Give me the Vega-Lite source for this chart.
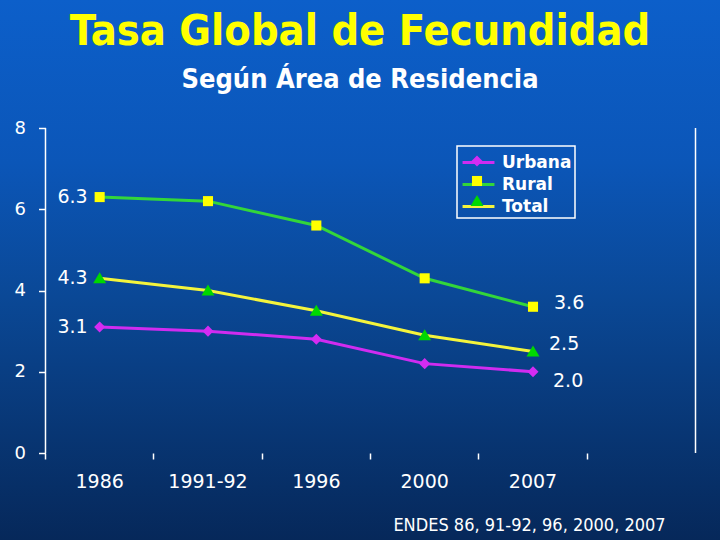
{
  "$schema": "https://vega.github.io/schema/vega-lite/v6.json",
  "width": 720,
  "height": 540,
  "autosize": {"type": "none"},
  "padding": 0,
  "background": "#0a4a9e",
  "config": {
    "view": {
      "stroke": null,
      "fill": {
        "gradient": "linear", "x1": 0, "y1": 0, "x2": 0, "y2": 1,
        "stops": [
          {"offset": 0, "color": "#0c5fca"},
          {"offset": 0.3, "color": "#0b56b8"},
          {"offset": 0.55, "color": "#0a4896"},
          {"offset": 0.8, "color": "#083674"},
          {"offset": 1, "color": "#06285a"}
        ]
      }
    },
    "font": "DejaVu Sans"
  },
  "title": {
    "text": "Tasa Global de Fecundidad",
    "subtitle": "Según Área de Residencia",
    "anchor": "middle",
    "frame": "group",
    "offset": -93,
    "font": "DejaVu Sans Condensed",
    "fontSize": 43,
    "fontWeight": "bold",
    "color": "#ffff00",
    "subtitleFont": "DejaVu Sans Condensed",
    "subtitleFontSize": 27,
    "subtitleFontWeight": "bold",
    "subtitleColor": "#ffffff",
    "subtitlePadding": 13
  },
  "datasets": {
    "tgf": [
      {"periodo": "1986", "serie": "Urbana", "tgf": 3.1},
      {"periodo": "1991-92", "serie": "Urbana", "tgf": 3.0},
      {"periodo": "1996", "serie": "Urbana", "tgf": 2.8},
      {"periodo": "2000", "serie": "Urbana", "tgf": 2.2},
      {"periodo": "2007", "serie": "Urbana", "tgf": 2.0},
      {"periodo": "1986", "serie": "Rural", "tgf": 6.3},
      {"periodo": "1991-92", "serie": "Rural", "tgf": 6.2},
      {"periodo": "1996", "serie": "Rural", "tgf": 5.6},
      {"periodo": "2000", "serie": "Rural", "tgf": 4.3},
      {"periodo": "2007", "serie": "Rural", "tgf": 3.6},
      {"periodo": "1986", "serie": "Total", "tgf": 4.3},
      {"periodo": "1991-92", "serie": "Total", "tgf": 4.0},
      {"periodo": "1996", "serie": "Total", "tgf": 3.5},
      {"periodo": "2000", "serie": "Total", "tgf": 2.9},
      {"periodo": "2007", "serie": "Total", "tgf": 2.5}
    ],
    "marco": [{"desde": 0, "hasta": 8}]
  },
  "data": {"name": "tgf"},
  "layer": [
    {
      "mark": {"type": "line", "strokeWidth": 3},
      "encoding": {
        "x": {
          "field": "periodo", "type": "nominal", "sort": null,
          "scale": {
            "type": "band",
            "domain": ["1986", "1991-92", "1996", "2000", "2007", " "],
            "paddingInner": 0, "paddingOuter": 0.323, "align": 0.65
          },
          "axis": {
            "orient": "bottom", "offset": -87, "domain": false, "grid": false,
            "bandPosition": 0, "labelAngle": 0,
            "tickColor": "#ffffff", "tickSize": 6, "tickWidth": 1.5,
            "labelColor": "#ffffff", "labelFont": "DejaVu Sans", "labelFontSize": 19, "labelPadding": 13,
            "title": "ENDES 86, 91-92, 96, 2000, 2007",
            "titleX": 529, "titleY": 72, "titleAlign": "center", "titleBaseline": "middle", "titleAngle": 0,
            "titleColor": "#ffffff", "titleFont": "DejaVu Sans Condensed", "titleFontSize": 18, "titleFontWeight": "normal"
          }
        },
        "y": {
          "field": "tgf", "type": "quantitative",
          "scale": {"domain": [-2.1415, 11.151], "nice": false, "zero": false},
          "axis": {
            "values": [0, 2, 4, 6, 8], "offset": -45.5, "domain": false, "grid": false,
            "tickColor": "#ffffff", "tickSize": 7, "tickWidth": 1.5,
            "labelColor": "#ffffff", "labelFont": "DejaVu Sans", "labelFontSize": 18, "labelPadding": 13,
            "title": null
          }
        },
        "color": {
          "field": "serie", "type": "nominal",
          "scale": {"domain": ["Urbana", "Rural", "Total"], "range": ["#d02cf0", "#33d63a", "#f4f43c"]},
          "legend": {
            "title": null, "orient": "none", "legendX": 457, "legendY": 146,
            "padding": 3, "rowPadding": 0, "strokeColor": "#ffffff",
            "symbolType": "M-1.33,0H1.33", "symbolSize": 576, "symbolStrokeWidth": 3, "symbolOffset": 5,
            "symbolFillColor": "transparent",
            "labelOffset": 10, "labelColor": "#ffffff", "labelFont": "DejaVu Sans", "labelFontSize": 17, "labelFontWeight": "bold",
            "encode": {"legend": {"update": {"strokeWidth": {"value": 1.5}}}}
          }
        }
      }
    },
    {
      "mark": {"type": "point", "filled": true, "opacity": 1, "size": 576, "strokeWidth": 0},
      "encoding": {
        "x": {"field": "periodo", "type": "nominal", "sort": null},
        "y": {"field": "tgf", "type": "quantitative"},
        "fill": {
          "field": "serie", "type": "nominal",
          "scale": {"domain": ["Urbana", "Rural", "Total", "zz"], "range": ["#d42cf2", "#ffff00", "#00d800", "#000000"]},
          "legend": {
            "values": ["Urbana", "Rural", "Total"], "zindex": 2,
            "title": null, "orient": "none", "legendX": 457, "legendY": 146,
            "padding": 3, "rowPadding": 0, "strokeColor": null,
            "symbolSize": 576, "symbolOffset": 5, "symbolStrokeWidth": 0,
            "labelOffset": 10, "labelExpr": "''", "labelFont": "DejaVu Sans", "labelFontSize": 17, "labelFontWeight": "bold"
          }
        },
        "shape": {
          "field": "serie", "type": "nominal",
          "scale": {
            "domain": ["Urbana", "Rural", "Total", "zz"],
            "range": [
              "M0,-0.46L0.46,0L0,0.46L-0.46,0Z",
              "M-0.42,-0.42H0.42V0.42H-0.42Z",
              "M0,-0.5L0.54,0.42H-0.54Z",
              "circle"
            ]
          },
          "legend": {
            "values": ["Urbana", "Rural", "Total"], "zindex": 2,
            "title": null, "orient": "none", "legendX": 457, "legendY": 146,
            "padding": 3, "rowPadding": 0, "strokeColor": null,
            "symbolSize": 576, "symbolOffset": 5, "symbolStrokeWidth": 0,
            "labelOffset": 10, "labelExpr": "''", "labelFont": "DejaVu Sans", "labelFontSize": 17, "labelFontWeight": "bold"
          }
        }
      }
    },
    {
      "transform": [{"filter": "datum.periodo === '1986'"}],
      "mark": {"type": "text", "align": "right", "baseline": "middle", "dx": -12, "color": "#ffffff", "font": "DejaVu Sans", "fontSize": 19},
      "encoding": {
        "x": {"field": "periodo", "type": "nominal", "sort": null},
        "y": {"field": "tgf", "type": "quantitative"},
        "text": {"field": "tgf", "type": "quantitative", "format": ".1f"}
      }
    },
    {
      "transform": [{"filter": "datum.periodo === '2007' && datum.serie === 'Rural'"}],
      "mark": {"type": "text", "align": "left", "baseline": "middle", "dx": 21, "dy": -4, "color": "#ffffff", "font": "DejaVu Sans", "fontSize": 19},
      "encoding": {
        "x": {"field": "periodo", "type": "nominal", "sort": null},
        "y": {"field": "tgf", "type": "quantitative"},
        "text": {"field": "tgf", "type": "quantitative", "format": ".1f"}
      }
    },
    {
      "transform": [{"filter": "datum.periodo === '2007' && datum.serie === 'Total'"}],
      "mark": {"type": "text", "align": "left", "baseline": "middle", "dx": 16, "dy": -7, "color": "#ffffff", "font": "DejaVu Sans", "fontSize": 19},
      "encoding": {
        "x": {"field": "periodo", "type": "nominal", "sort": null},
        "y": {"field": "tgf", "type": "quantitative"},
        "text": {"field": "tgf", "type": "quantitative", "format": ".1f"}
      }
    },
    {
      "transform": [{"filter": "datum.periodo === '2007' && datum.serie === 'Urbana'"}],
      "mark": {"type": "text", "align": "left", "baseline": "middle", "dx": 20, "dy": 9, "color": "#ffffff", "font": "DejaVu Sans", "fontSize": 19},
      "encoding": {
        "x": {"field": "periodo", "type": "nominal", "sort": null},
        "y": {"field": "tgf", "type": "quantitative"},
        "text": {"field": "tgf", "type": "quantitative", "format": ".1f"}
      }
    },
    {
      "data": {"name": "marco"},
      "mark": {"type": "rule", "color": "#ffffff", "strokeWidth": 1.5},
      "encoding": {
        "x": {"datum": "1986", "type": "nominal", "bandPosition": 0},
        "y": {"field": "desde", "type": "quantitative"},
        "y2": {"field": "hasta"}
      }
    },
    {
      "data": {"name": "marco"},
      "mark": {"type": "rule", "color": "#ffffff", "strokeWidth": 1.5},
      "encoding": {
        "x": {"datum": " ", "type": "nominal", "bandPosition": 1},
        "y": {"field": "desde", "type": "quantitative"},
        "y2": {"field": "hasta"}
      }
    }
  ]
}
